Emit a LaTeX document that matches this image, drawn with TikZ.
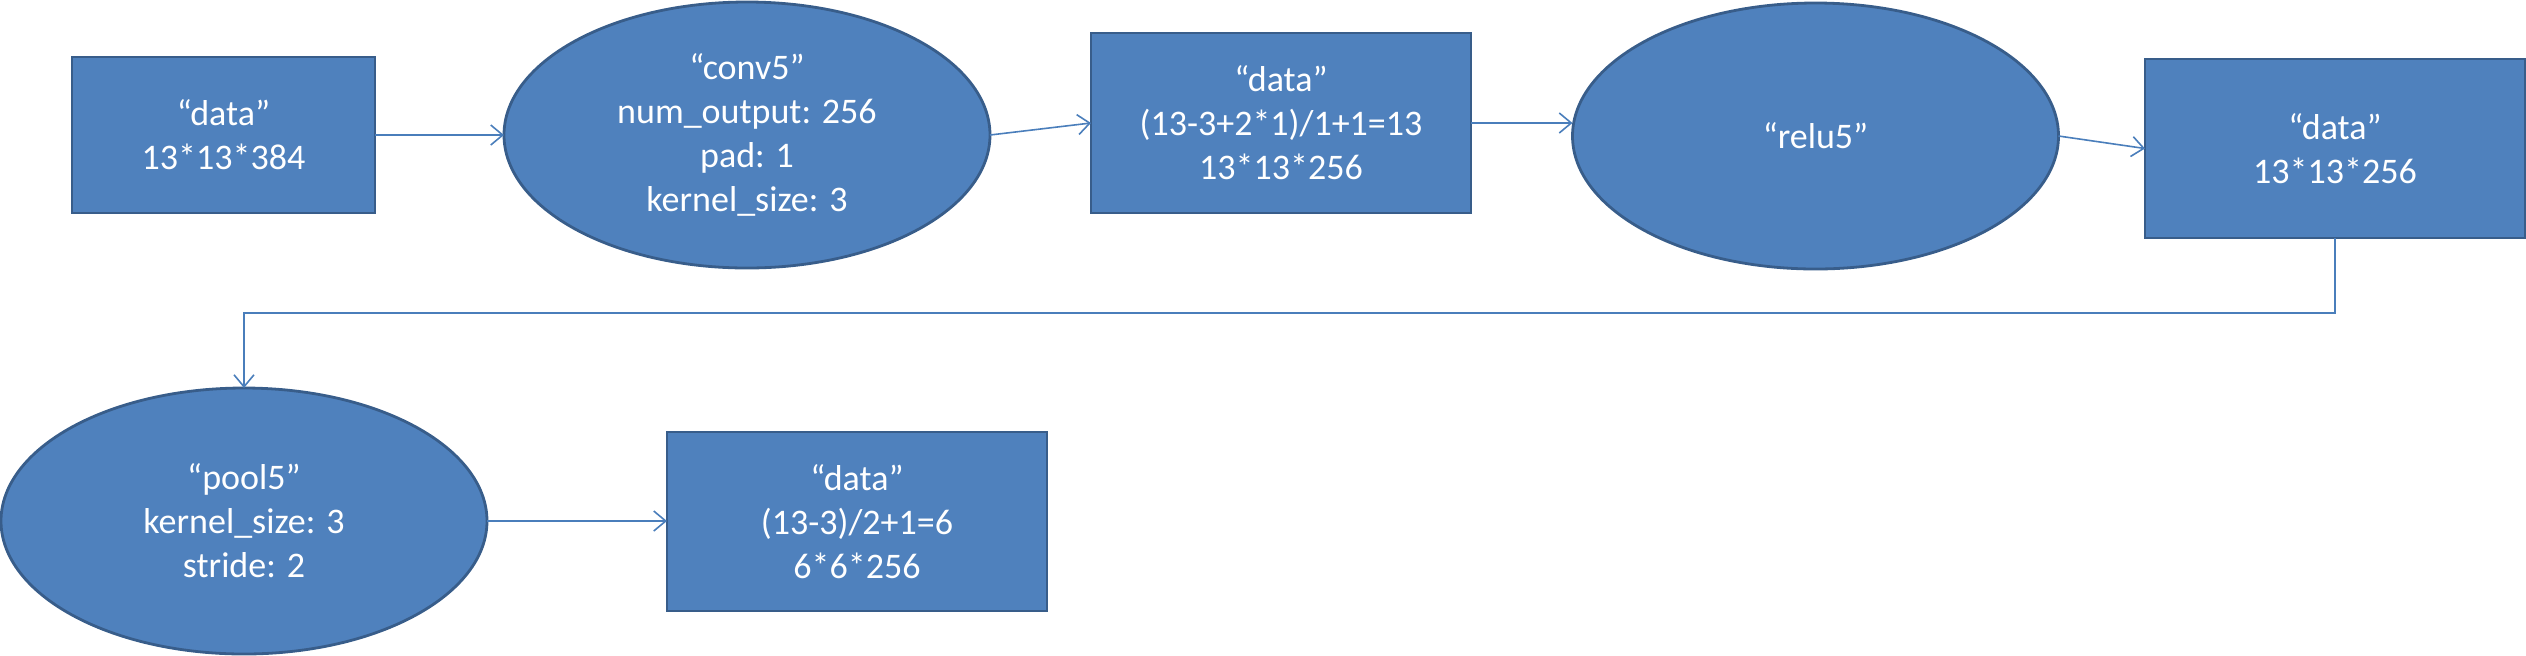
\documentclass[tikz,border=0pt]{standalone}
\usepackage{fontspec}
\setmainfont{Carlito}
\usetikzlibrary{shapes.geometric,arrows.meta}
\definecolor{boxfill}{HTML}{4F81BD}
\definecolor{boxline}{HTML}{385D8A}
\definecolor{conn}{HTML}{4A7EBB}
\tikzset{
  base/.style={fill=boxfill,draw=boxline,line width=1.4pt,text=white,align=center,
    inner sep=0pt,outer sep=0pt,font=\fontsize{18}{22}\selectfont},
  rectbox/.style={base,rectangle,minimum width=#1},
  ellbox/.style={base,ellipse,minimum width=243pt,minimum height=133pt},
  conn/.style={draw=conn,line width=0.8pt,-{Straight Barb[length=6pt,width=10pt,line width=0.8pt]}}
}
\begin{document}
\begin{tikzpicture}[x=0.5pt,y=-0.5pt]
\useasboundingbox (0,0) rectangle (2526,655);
\node[rectbox=151.5pt,minimum height=78pt] (d1) at (223.5,135) {“data”\\13*13*384};
\node[ellbox] (conv5) at (747,135) {“conv5”\\num\_output: 256\\pad: 1\\kernel\_size: 3};
\node[rectbox=190pt,minimum height=90pt] (d2) at (1281,123) {“data”\\(13-3+2*1)/1+1=13\\13*13*256};
\node[ellbox] (relu5) at (1815.5,136) {“relu5”};
\node[rectbox=190pt,minimum height=89.5pt] (d3) at (2335,148.5) {“data”\\13*13*256};
\node[ellbox] (pool5) at (244,521) {“pool5”\\kernel\_size: 3\\stride: 2};
\node[rectbox=190pt,minimum height=89.5pt] (d4) at (857,521.5) {“data”\\(13-3)/2+1=6\\6*6*256};
\coordinate (mid) at (1200,313);
\draw[conn] (d1.east) -- (conv5.west);
\draw[conn] (conv5.east) -- (d2.west);
\draw[conn] (d2.east) -- (d2.east -| relu5.west);
\draw[conn] (relu5.east) -- (d3.west);
\draw[conn] (d3.south) |- (mid) -| (pool5.north);
\draw[conn] (pool5.east) -- (pool5.east -| d4.west);
\end{tikzpicture}
\end{document}
